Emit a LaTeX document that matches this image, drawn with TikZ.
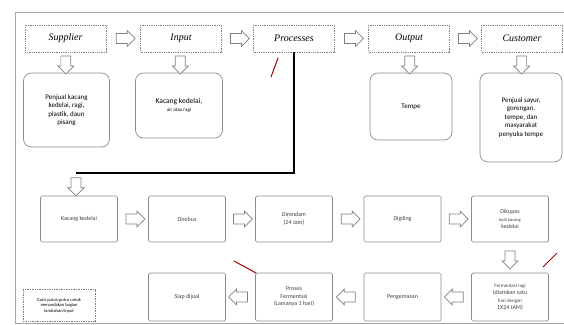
\documentclass[tikz,border=0pt]{standalone}
\usepackage{fontspec}
\setmainfont{Liberation Serif}
\newfontfamily\bodyfont{Carlito}
\usetikzlibrary{shapes.arrows}
\begin{document}
\begin{tikzpicture}[x=1pt,y=-1pt,
  frame/.style={draw=black!35, line width=0.6pt},
  headbox/.style={draw=black!50, densely dotted, line width=0.8pt, minimum width=81pt, minimum height=27pt, inner sep=1pt, font=\fontsize{10}{12}\selectfont\itshape},
  infobox/.style={draw=black!45, rounded corners=8pt, line width=0.7pt, align=center, inner sep=2pt, font=\bodyfont\fontsize{7}{8.5}\selectfont},
  stepbox/.style={draw=black!45, rounded corners=1.5pt, line width=0.7pt, minimum width=77pt, minimum height=46pt, align=center, inner sep=1pt, font=\bodyfont\fontsize{6}{7.5}\selectfont, text=black!75},
  legendbox/.style={draw=black!50, densely dotted, line width=0.7pt, minimum width=72pt, minimum height=32pt, align=center, inner sep=1pt, font=\bodyfont\fontsize{4.5}{5.5}\selectfont},
  blockarrow/.style={single arrow, draw=black!50, fill=white, line width=0.7pt, minimum height=19pt, minimum width=16pt, single arrow head extend=3pt, inner sep=4.5pt},
  rarrow/.style={blockarrow, shape border rotate=0},
  larrow/.style={blockarrow, shape border rotate=180},
  darrow/.style={blockarrow, shape border rotate=270},
  redmark/.style={draw=red!65!black, line width=1pt, line cap=round}
]
\useasboundingbox (0,0) rectangle (564,324);
% frame
\coordinate (ftl) at (15,12);
\coordinate (ftr) at (564,12);
\coordinate (fbl) at (15,323);
\coordinate (fbr) at (564,323);
\draw[frame] (ftr) -- (ftl) -- (fbl) -- (fbr);

% top headings
\node[headbox] (sup) at (65.5,38.5) {Supplier};
\node[headbox] (inp) at (181,38.5) {Input};
\node[headbox] (pro) at (294,38.5) {Processes};
\node[headbox] (out) at (409,38.5) {Output};
\node[headbox] (cus) at (522,38.5) {Customer};
\path (sup) -- node[rarrow]{} (inp);
\path (inp) -- node[rarrow]{} (pro);
\path (pro) -- node[rarrow]{} (out);
\path (out) -- node[rarrow]{} (cus);

% second row
\node[infobox, minimum width=86pt, minimum height=74pt] (supd) at (66.5,110) {Penjual kacang\\kedelai, ragi,\\plastik, daun\\pisang};
\node[infobox, minimum width=87pt, minimum height=65pt] (inpd) at (179,105.5) {{\fontsize{7.5}{9}\selectfont Kacang kedelai,}\\[-1pt]{\fontsize{5}{6}\selectfont air atau ragi}};
\node[infobox, minimum width=82pt, minimum height=67pt] (outd) at (411,106.5) {Tempe};
\node[infobox, minimum width=82pt, minimum height=89pt] (cusd) at (521,117.5) {Penjual sayur,\\gorengan,\\tempe, dan\\masyarakat\\penyuka tempe};
\path (sup) -- node[darrow, minimum height=18pt]{} (supd);
\path (inp) -- node[darrow, minimum height=18pt]{} (inpd);
\path (out) -- node[darrow, minimum height=18pt]{} (outd);
\path (cus) -- node[darrow, minimum height=18pt]{} (cusd);

% process rows
\node[stepbox] (s1) at (79,219) {Kacang kedelai};
\node[stepbox] (s2) at (187,219) {Direbus};
\node[stepbox] (s3) at (294,219) {Direndam\\(24 Jam)};
\node[stepbox] (s4) at (402.5,219) {Digiling};
\node[stepbox] (s5) at (510,219) {Dikupas\\{\fontsize{4.5}{6}\selectfont kulit kacang}\\kedelai};
\node[stepbox, minimum height=48pt] (s6) at (510,297) {{\fontsize{5}{6.5}\selectfont Fermentasi ragi}\\(diamkan satu\\{\fontsize{5}{6.5}\selectfont hari dengan}\\1X24 JAM)};
\node[stepbox, minimum height=48pt] (s7) at (402.5,297) {Pengemasan};
\node[stepbox, minimum height=48pt] (s8) at (294,297) {Proses\\Fermentasi\\(Lamanya 1 hari)};
\node[stepbox, minimum height=48pt] (s9) at (187,297) {Siap dijual};
\path (s1) -- node[rarrow]{} (s2);
\path (s2) -- node[rarrow]{} (s3);
\path (s3) -- node[rarrow]{} (s4);
\path (s4) -- node[rarrow]{} (s5);
\path (s5) -- node[darrow, minimum height=18pt]{} (s6);
\path (s6) -- node[larrow]{} (s7);
\path (s7) -- node[larrow]{} (s8);
\path (s8) -- node[larrow]{} (s9);

% thick connector from Processes
\coordinate (bend) at (76,173);
\draw[line width=1.6pt] (pro.south) |- (bend);
\path (bend) -- node[darrow, minimum height=18pt]{} (s1.north -| bend);

% legend
\node[legendbox] (leg) at (59,305.5) {Garis putus-putus untuk\\menandakan bagian\\tambahan/input};

% red pen marks
\coordinate (r1a) at (278,58); \coordinate (r1b) at (271,77);
\draw[redmark] (r1a) -- (r1b);
\coordinate (r2a) at (234,261); \coordinate (r2b) at (256,273);
\draw[redmark] (r2a) -- (r2b);
\coordinate (r3a) at (557,253); \coordinate (r3b) at (543,267);
\draw[redmark] (r3a) -- (r3b);
\end{tikzpicture}
\end{document}
